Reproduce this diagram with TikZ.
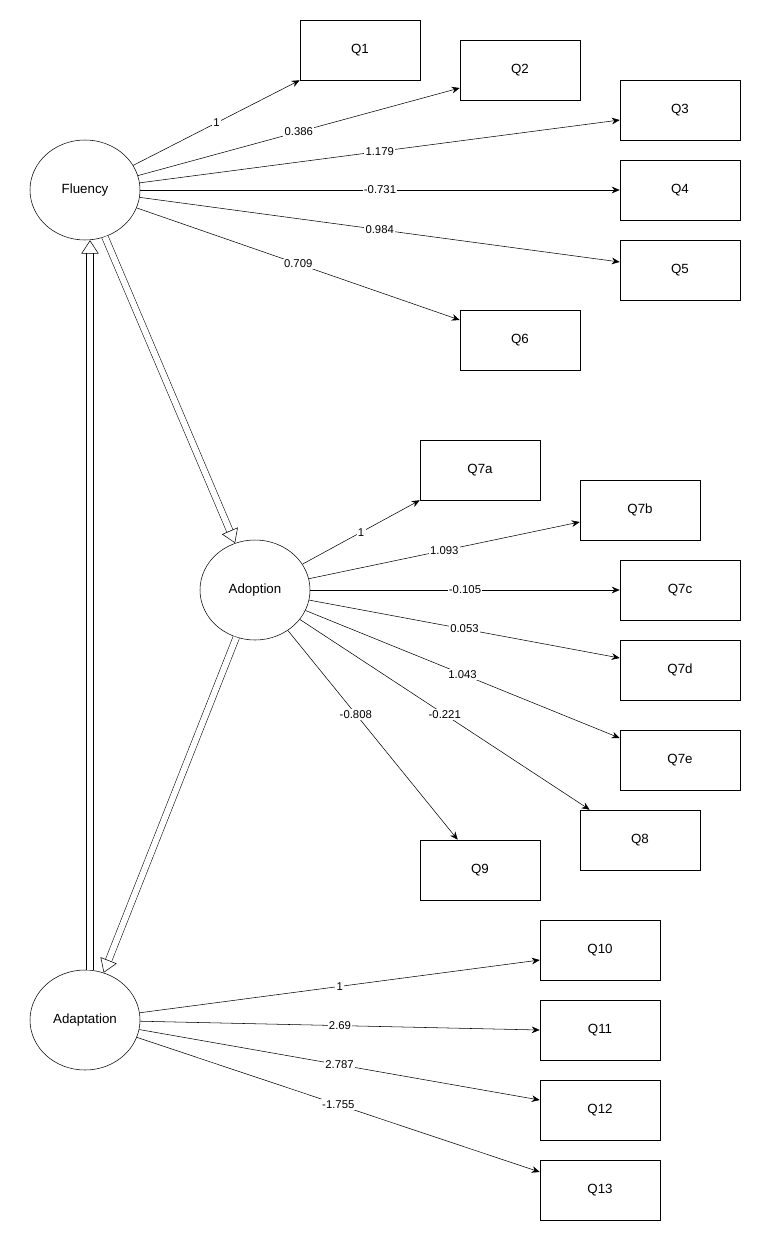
\documentclass[tikz,border=0pt]{standalone}
\usepackage{fontspec}
\setmainfont{Liberation Sans}
\usetikzlibrary{shapes.geometric,arrows.meta}
\tikzset{
  latent/.style={draw,ellipse,minimum width=82.5pt,minimum height=75pt,font=\fontsize{10}{12}\selectfont},
  item/.style={draw,rectangle,minimum width=90pt,minimum height=45pt,font=\fontsize{10}{12}\selectfont},
  load/.style={-{Stealth[length=6pt,width=5pt]}},
  lbl/.style={fill=white,inner sep=1pt,font=\fontsize{8.5}{10}\selectfont},
  path2/.style={double,double distance=4.5pt,-{Triangle[open,length=10pt,width=13pt]}}
}
\begin{document}
\begin{tikzpicture}[x=0.75pt,y=-0.75pt]
\useasboundingbox (0,0) rectangle (783,1238);
% latent variables
\node [latent,name=F] at (85,190){Fluency};
\node [latent,name=A] at (255,590){Adoption};
\node [latent,name=D] at (85,1020){Adaptation};
% items
\node [item,name=Q1] at (360,50){Q1};
\node [item,name=Q2] at (520,70){Q2};
\node [item,name=Q3] at (680,110){Q3};
\node [item,name=Q4] at (680,190){Q4};
\node [item,name=Q5] at (680,270){Q5};
\node [item,name=Q6] at (520,340){Q6};
\node [item,name=Q7a] at (480,470){Q7a};
\node [item,name=Q7b] at (640,510){Q7b};
\node [item,name=Q7c] at (680,590){Q7c};
\node [item,name=Q7d] at (680,670){Q7d};
\node [item,name=Q7e] at (680,760){Q7e};
\node [item,name=Q8] at (640,840){Q8};
\node [item,name=Q9] at (480,870){Q9};
\node [item,name=Q10] at (600,950){Q10};
\node [item,name=Q11] at (600,1030){Q11};
\node [item,name=Q12] at (600,1110){Q12};
\node [item,name=Q13] at (600,1190){Q13};
% loadings
\draw[load] (F)--(Q1.south west) node[lbl,pos=0.5]{1};
\draw[load] (F)--([yshift=-13.5pt]Q2.west) node[lbl,pos=0.5]{0.386};
\draw[load] (F)--([yshift=-7.5pt]Q3.west) node[lbl,pos=0.5]{1.179};
\draw[load] (F)--(Q4.west) node[lbl,pos=0.5]{-0.731};
\draw[load] (F)--([yshift=6pt]Q5.west) node[lbl,pos=0.5]{0.984};
\draw[load] (F)--([yshift=15pt]Q6.west) node[lbl,pos=0.5]{0.709};
\draw[load] (A)--(Q7a.south west) node[lbl,pos=0.5]{1};
\draw[load] (A)--([yshift=-9pt]Q7b.west) node[lbl,pos=0.5]{1.093};
\draw[load] (A)--(Q7c.west) node[lbl,pos=0.5]{-0.105};
\draw[load] (A)--([yshift=9pt]Q7d.west) node[lbl,pos=0.5]{0.053};
\draw[load] (A)--([yshift=16.5pt]Q7e.west) node[lbl,pos=0.5]{1.043};
\draw[load] (A)--([xshift=7.5pt]Q8.north west) node[lbl,pos=0.5]{-0.221};
\draw[load] (A)--([xshift=28.5pt]Q9.north west) node[lbl,pos=0.4]{-0.808};
\draw[load] (D)--([yshift=-7.5pt]Q10.west) node[lbl,pos=0.5]{1};
\draw[load] (D)--(Q11.west) node[lbl,pos=0.5]{2.69};
\draw[load] (D)--([yshift=7.5pt]Q12.west) node[lbl,pos=0.5]{2.787};
\draw[load] (D)--([yshift=13.5pt]Q13.west) node[lbl,pos=0.5]{-1.755};
% structural paths
\draw[path2] (F)--(A);
\draw[path2] (A)--(D);
\draw[path2] ([xshift=3.75pt]D.north)--([xshift=3.75pt]F.south);
\end{tikzpicture}
\end{document}
